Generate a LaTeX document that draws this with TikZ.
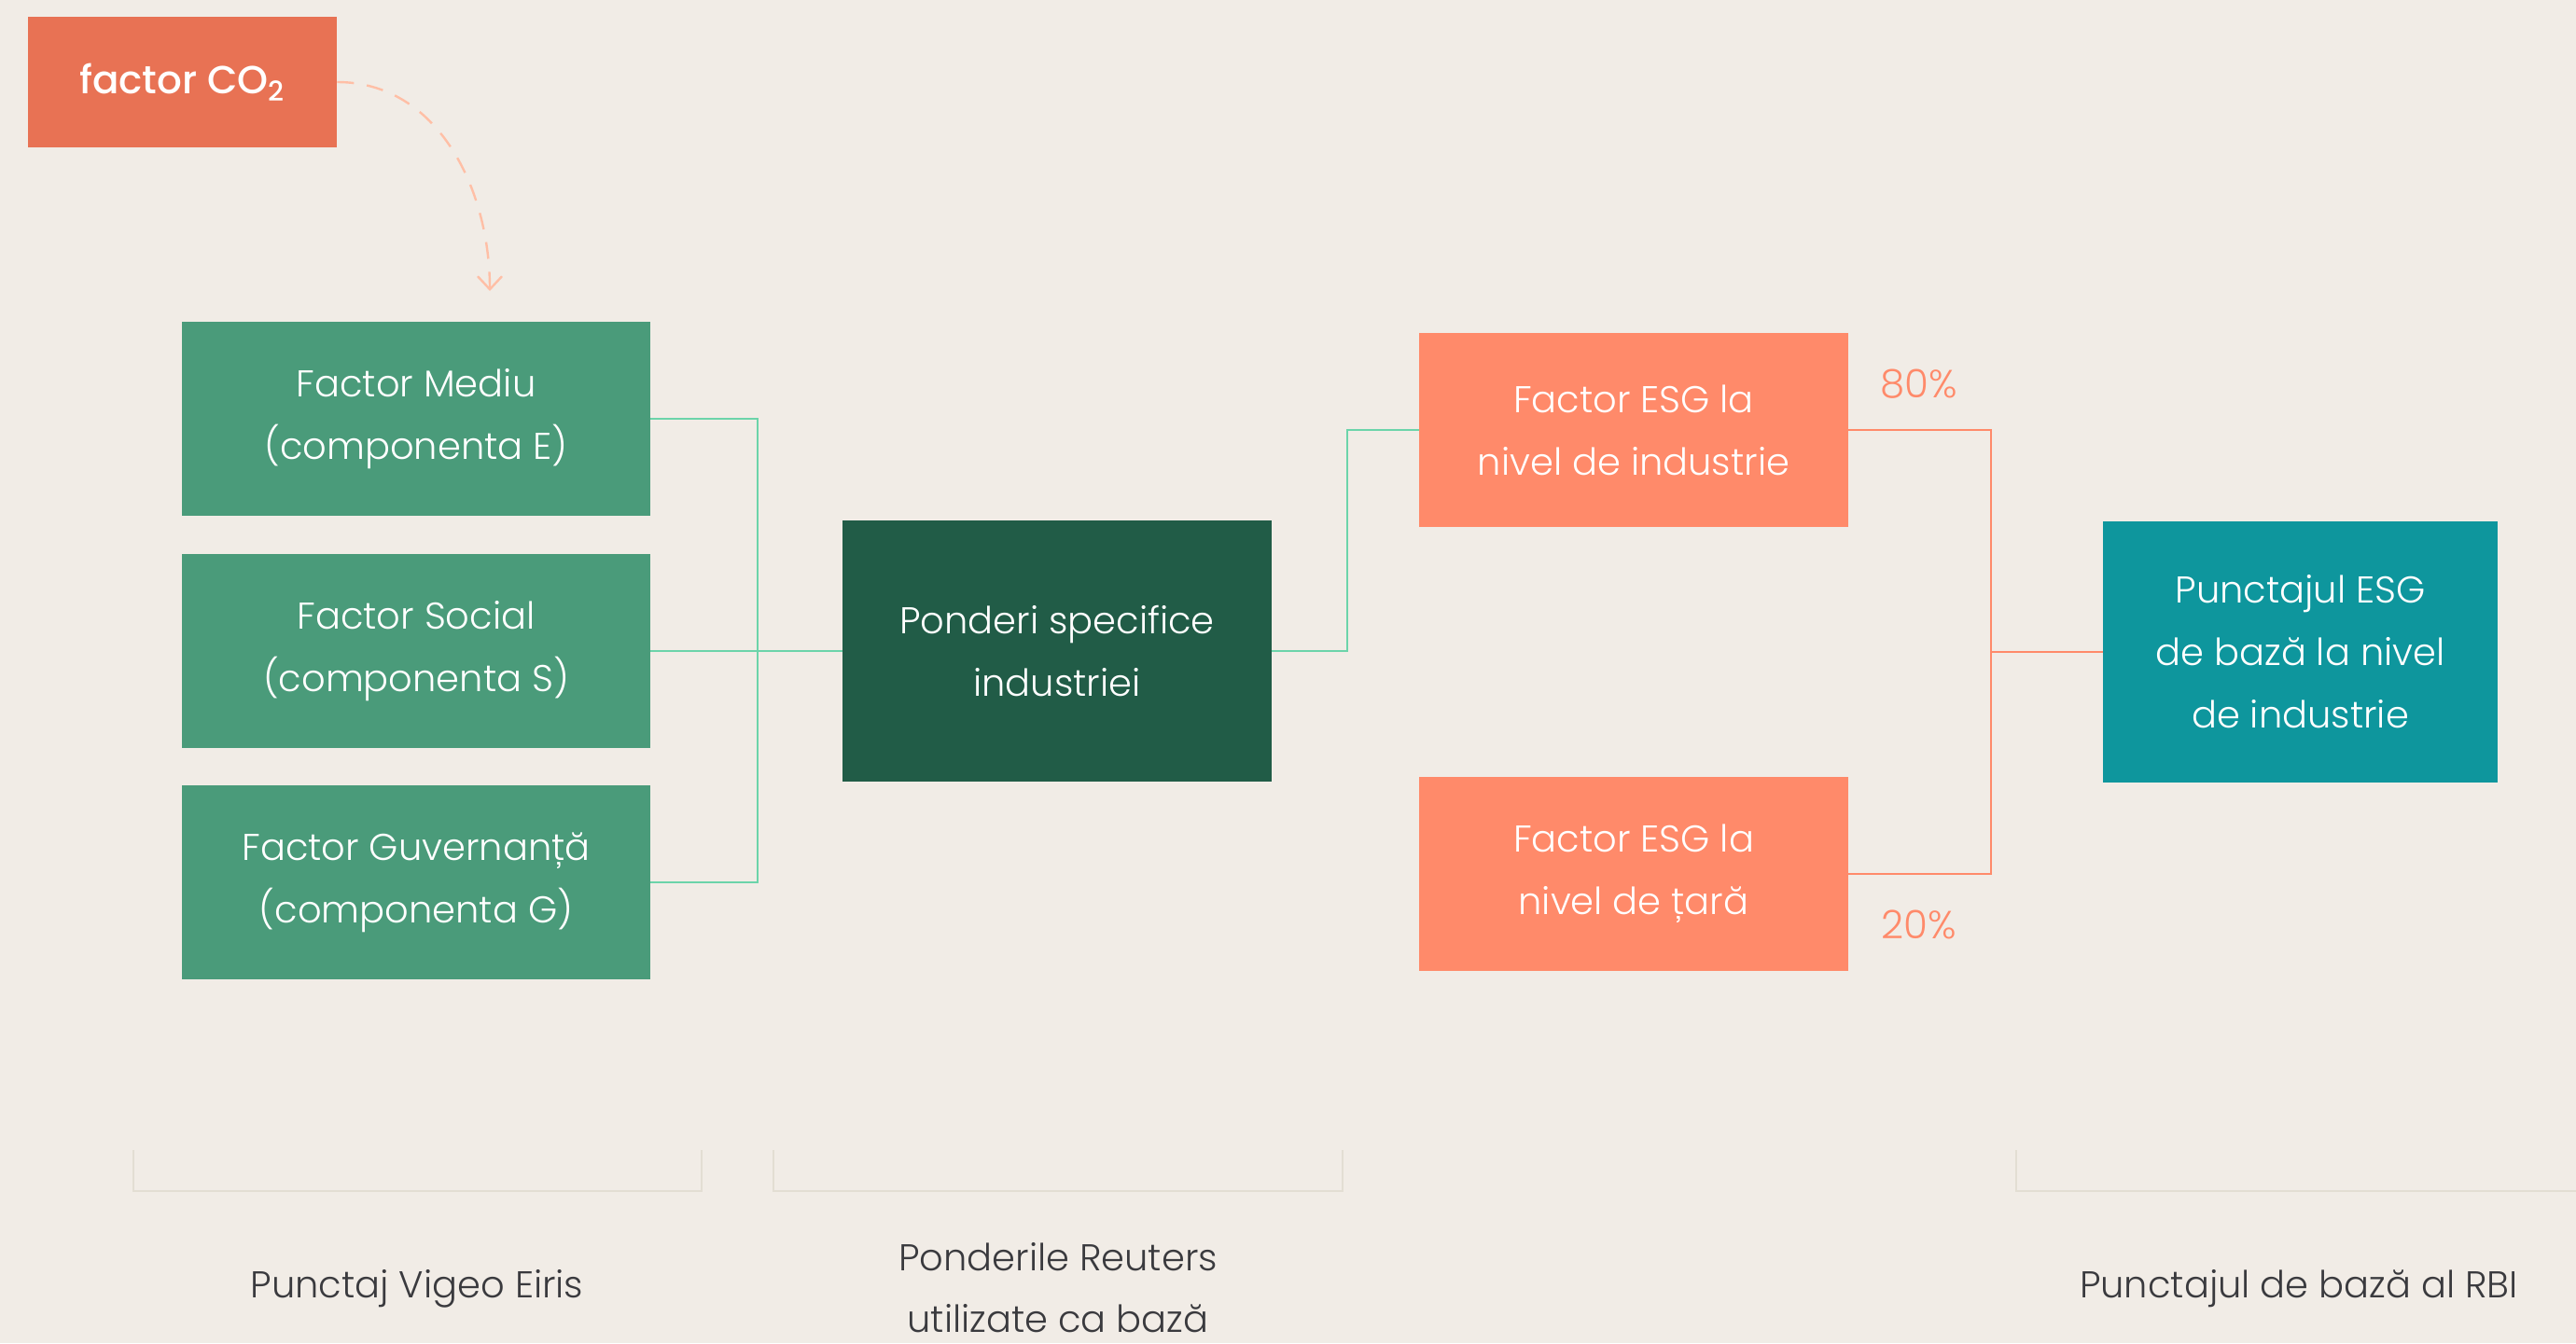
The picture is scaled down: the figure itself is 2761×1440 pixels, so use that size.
\documentclass[tikz,border=0pt]{standalone}
\usepackage{fontspec}
\setmainfont{Poppins}[UprightFont=* Light, BoldFont=* Medium]
\usetikzlibrary{arrows.meta}
\definecolor{bg}{HTML}{F1ECE6}
\definecolor{co2c}{HTML}{E87254}
\definecolor{gmid}{HTML}{4A9B7A}
\definecolor{gdark}{HTML}{215C47}
\definecolor{orng}{HTML}{FF8A6A}
\definecolor{tealc}{HTML}{0E969D}
\definecolor{mint}{HTML}{6CD4AA}
\definecolor{peach}{HTML}{FFBFA6}
\definecolor{brk}{HTML}{E3DED3}
\definecolor{dgray}{HTML}{3A3A3E}
\tikzset{
  boxbase/.style={rectangle, inner sep=0pt, align=center, text=white,
    font=\fontsize{20pt}{33.5pt}\selectfont},
  greenbox/.style={boxbase, fill=gmid, minimum width=251pt, minimum height=104pt,
    execute at begin node={\rule{0pt}{1.05em}}},
  pondbox/.style={boxbase, fill=gdark, minimum width=230pt, minimum height=140pt},
  esgbox/.style={boxbase, fill=orng, minimum width=230pt, minimum height=104pt},
  tealbox/.style={boxbase, fill=tealc, minimum width=211.5pt, minimum height=140pt},
  co2box/.style={boxbase, fill=co2c, minimum width=165.5pt, minimum height=70pt,
    font=\fontsize{21pt}{30pt}\selectfont\bfseries},
  gline/.style={draw=mint, line width=1.4pt},
  oline/.style={draw=orng, line width=1.4pt},
  brkline/.style={draw=brk, line width=1.3pt},
  pct/.style={text=orng, font=\fontsize{21pt}{30pt}\selectfont},
  bottomlbl/.style={text=dgray, align=center, font=\fontsize{20pt}{33pt}\selectfont},
  dasharrow/.style={draw=peach, line width=1.2pt, dash pattern=on 9pt off 7pt,
    -{Straight Barb[length=7pt,width=13pt,line width=1.2pt]}}
}
\begin{document}
\begin{tikzpicture}[x=0.5pt,y=-0.5pt]
\fill[bg] (0,0) rectangle (2761,1440);
\useasboundingbox (0,0) rectangle (2761,1440);

\node[co2box] (co2) at (195.5,88) {factor CO\textsubscript{2}};
\coordinate (arrEnd) at (525,312);
\draw[dasharrow] (co2.east) to[out=0,in=90] (arrEnd);

\node[greenbox] (gE) at (446,449) {Factor Mediu\\(componenta E)};
\node[greenbox] (gS) at (446,698) {Factor Social\\(componenta S)};
\node[greenbox] (gG) at (446,946) {Factor Guvernanță\\(componenta G)};

\node[pondbox] (pond) at (1133,698) {Ponderi specifice\\industriei};

\node[esgbox] (esgI) at (1751,461) {Factor ESG la\\nivel de industrie};
\node[esgbox] (esgT) at (1751,937) {Factor ESG la\\nivel de țară};

\node[tealbox] (teal) at (2465.5,699) {Punctajul ESG\\de bază la nivel\\de industrie};

\coordinate (j1) at (812,698);
\draw[gline] (gE.east) -| (j1) |- (gG.east);
\draw[gline] (gS.east) -- (pond.west);

\coordinate (j2) at (1444,698);
\draw[gline] (pond.east) -- (j2) |- (esgI.west);

\coordinate (j3) at (2134,699);
\draw[oline] (esgI.east) -| (j3) |- (esgT.east);
\draw[oline] (j3) -- (teal.west);

\node[pct] (p80) at (2057,412) {80\%};
\node[pct] (p20) at (2057,991) {20\%};

\draw[brkline] (143,1233) -- (143,1277) -- (752,1277) -- (752,1233);
\draw[brkline] (829,1233) -- (829,1277) -- (1439,1277) -- (1439,1233);
\draw[brkline] (2161,1233) -- (2161,1277) -- (2761,1277);

\node[bottomlbl] (l1) at (447,1382) {Punctaj Vigeo Eiris};
\node[bottomlbl] (l2) at (1134,1381) {Ponderile Reuters\\utilizate ca bază};
\node[bottomlbl] (l3) at (2464,1382) {Punctajul de bază al RBI};
\end{tikzpicture}
\end{document}
